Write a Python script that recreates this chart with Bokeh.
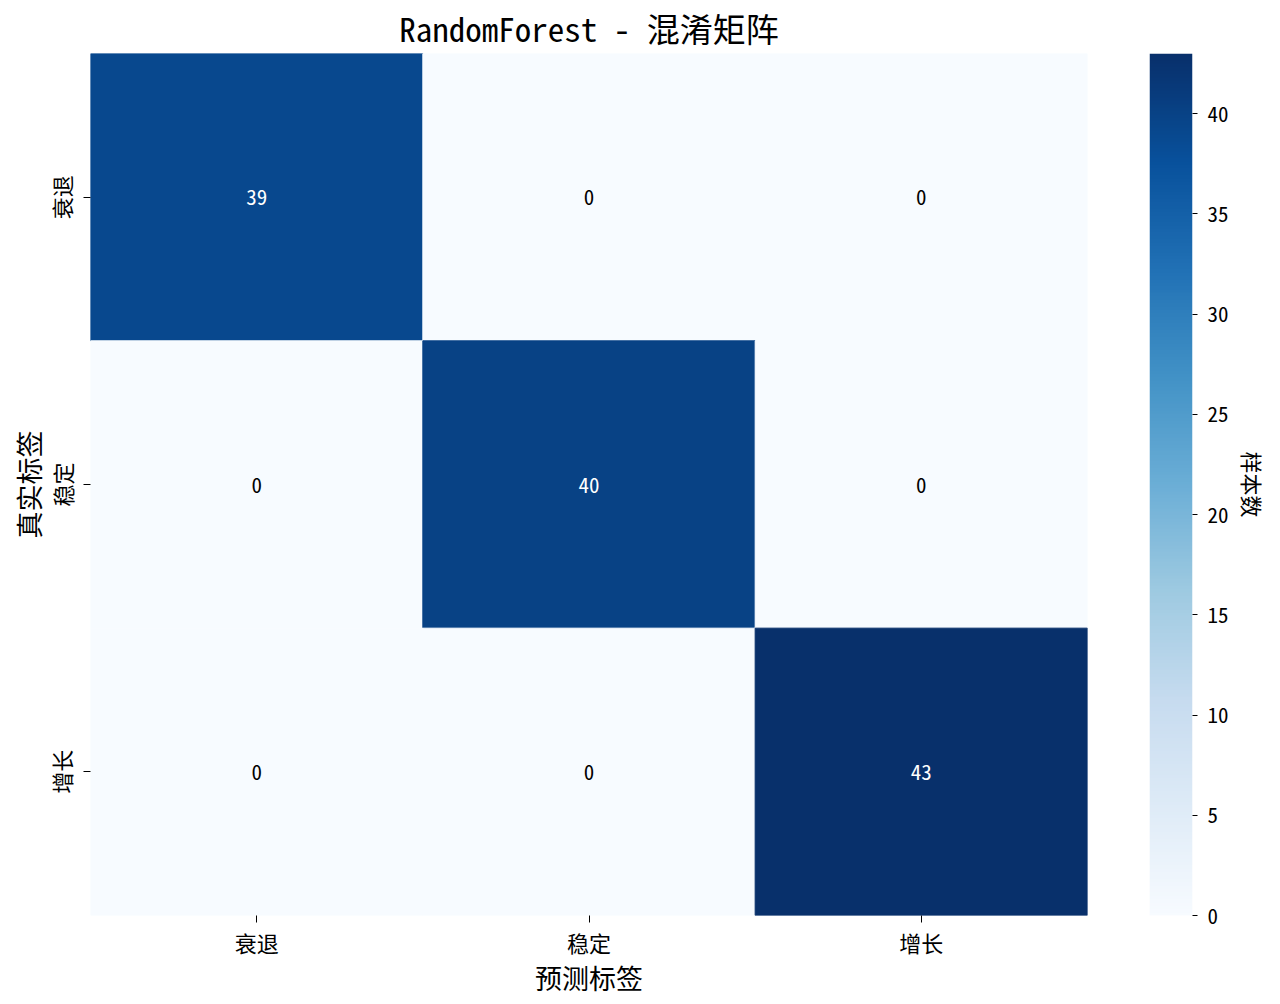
import numpy as np
from bokeh.plotting import figure
from bokeh.models import (ColumnDataSource, FactorRange, Range1d, LinearColorMapper,
                          FixedTicker, Title)
from bokeh.layouts import row
from bokeh.palettes import Blues256
from bokeh.core.properties import value
from bokeh.embed import file_html
from bokeh.resources import INLINE

# ---- data ----
classes = ["衰退", "稳定", "增长"]
true_labels = ["衰退", "衰退", "衰退", "稳定", "稳定", "稳定", "增长", "增长", "增长"]
pred_labels = ["衰退", "稳定", "增长", "衰退", "稳定", "增长", "衰退", "稳定", "增长"]
counts = [39, 0, 0, 0, 40, 0, 0, 0, 43]
cbar_ticks = [0, 5, 10, 15, 20, 25, 30, 35, 40]
title_text = "RandomForest - 混淆矩阵"
x_label = "预测标签"
y_label = "真实标签"
cbar_label = "样本数"

FONT = "'Noto Sans Mono CJK SC', 'Noto Sans CJK SC', sans-serif"

vmin, vmax = 0, max(counts)
palette = list(reversed(Blues256))
mapper = LinearColorMapper(palette=palette, low=vmin, high=vmax)

text_colors = ["white" if c > (vmax + vmin) / 2 else "black" for c in counts]
source = ColumnDataSource(dict(pred=pred_labels, true=true_labels, count=counts,
                               label=[str(c) for c in counts], tcolor=text_colors))

FRAME_H = 862
TOP = 45
BOTTOM = 81

p = figure(x_range=FactorRange(factors=classes),
           y_range=FactorRange(factors=list(reversed(classes))),
           frame_width=997, frame_height=FRAME_H,
           min_border_left=82, min_border_right=62, min_border_top=TOP, min_border_bottom=BOTTOM,
           output_backend="svg", toolbar_location=None, tools="")
p.title.text = title_text
p.title.align = "center"
p.title.text_font = FONT
p.title.text_font_size = "33px"
p.title.text_font_style = "normal"
p.title.text_color = "black"
p.title.standoff = 3
p.title.offset = 0

p.rect(x="pred", y="true", width=1, height=1, source=source,
       fill_color={"field": "count", "transform": mapper},
       line_color={"field": "count", "transform": mapper}, line_width=1)
p.text(x="pred", y="true", text="label", source=source,
       text_align="center", text_baseline="middle",
       text_font=value(FONT), text_font_size="21px", text_color="tcolor")

p.grid.visible = False
p.outline_line_color = None
p.background_fill_color = "white"
for ax in (p.xaxis[0], p.yaxis[0]):
    ax.axis_line_color = None
    ax.major_tick_line_color = "black"
    ax.major_tick_out = 7
    ax.major_tick_in = 0
    ax.minor_tick_line_color = None
    ax.major_label_text_font = FONT
    ax.major_label_text_font_size = "22px"
    ax.major_label_text_color = "black"
    ax.axis_label_text_font = FONT
    ax.axis_label_text_font_size = "27px"
    ax.axis_label_text_font_style = "normal"
    ax.axis_label_text_color = "black"
p.xaxis.major_label_standoff = 3
p.xaxis.axis_label_standoff = -3
p.yaxis.major_label_standoff = 6
p.yaxis.axis_label_standoff = -5
p.xaxis.axis_label = x_label
p.yaxis.axis_label = y_label
p.yaxis.major_label_orientation = "vertical"
# thin empty spacer on the far left so the frame starts where the reference's does
p.add_layout(Title(text=" ", text_font=FONT, text_font_size="1px", standoff=2), "left")

# ---- colour bar as its own small figure ----
p2 = figure(x_range=Range1d(0, 1), y_range=Range1d(vmin, vmax),
            frame_width=43, frame_height=FRAME_H,
            min_border_left=0, min_border_right=10, min_border_top=TOP, min_border_bottom=BOTTOM,
            y_axis_location="right",
            output_backend="svg", toolbar_location=None, tools="")
p2.add_layout(Title(text=" ", text_font=FONT, text_font_size="33px",
                    standoff=3, offset=0), "above")
grad = np.linspace(vmin, vmax, 512).reshape(-1, 1)
p2.image(image=[grad], x=0, y=vmin, dw=1, dh=vmax - vmin, color_mapper=mapper)
p2.xaxis.visible = False
p2.grid.visible = False
p2.outline_line_color = None
ya = p2.yaxis[0]
ya.ticker = FixedTicker(ticks=cbar_ticks)
ya.axis_line_color = None
ya.major_tick_line_color = "black"
ya.major_tick_out = 5
ya.major_tick_in = 0
ya.minor_tick_line_color = None
ya.major_label_text_font = FONT
ya.major_label_text_font_size = "21px"
ya.major_label_text_color = "black"
ya.major_label_standoff = 10
ya.axis_label = cbar_label
ya.axis_label_text_font = FONT
ya.axis_label_text_font_size = "22px"
ya.axis_label_text_font_style = "normal"
ya.axis_label_text_color = "black"
ya.axis_label_standoff = 6

layout = row(p, p2)
open("out.html", "w").write(file_html(layout, INLINE))
